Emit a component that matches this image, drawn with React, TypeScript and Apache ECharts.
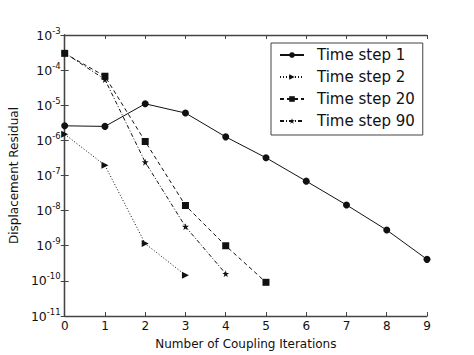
import React, { useEffect, useRef } from "react";
import * as echarts from "echarts";

const iterations = [0, 1, 2, 3, 4, 5, 6, 7, 8, 9];
const timeStep1 = [2.6e-6, 2.5e-6, 1.1e-5, 6e-6, 1.26e-6, 3.2e-7, 6.9e-8, 1.45e-8, 2.8e-9, 4.1e-10];
const timeStep2 = [1.5e-6, 1.95e-7, 1.15e-9, 1.45e-10];
const timeStep20 = [3.0e-4, 6.7e-5, 9.3e-7, 1.4e-8, 1.0e-9, 9.1e-11];
const timeStep90 = [3.1e-4, 5.4e-5, 2.4e-7, 3.5e-9, 1.6e-10];
const seriesNames = ["Time step 1", "Time step 2", "Time step 20", "Time step 90"];
const xTicks = [0, 1, 2, 3, 4, 5, 6, 7, 8, 9];

const FONT = "DejaVu Sans";
const STAR = "path://M50,0 L61,35 L98,35 L68,57 L79,91 L50,70 L21,91 L32,57 L2,35 L39,35 Z";

function pairs(vals: number[]) {
  return vals.map((v, i) => [iterations[i], v]);
}

export default function App() {
  const ref = useRef<HTMLDivElement>(null);
  useEffect(() => {
    const chart = echarts.init(ref.current!, null, { renderer: "svg" });
    const axisLine = { lineStyle: { color: "#444", width: 1.3 } };
    const tick = { inside: true, length: 4, lineStyle: { color: "#444", width: 1 } };
    const lineBase = { color: "#111", width: 1 };
    chart.setOption({
      animation: false,
      backgroundColor: "#fff",
      textStyle: { fontFamily: FONT },
      grid: { left: 60, right: 47, top: 35, bottom: 36 },
      legend: {
        left: 271,
        top: 43,
        orient: "vertical",
        data: seriesNames,
        itemWidth: 24,
        itemHeight: 7,
        itemGap: 4,
        padding: [3, 8, 5, 8],
        borderColor: "#444",
        borderWidth: 1,
        textStyle: {
          fontFamily: FONT,
          fontSize: 15,
          lineHeight: 18,
          color: "#111",
          padding: [0, 0, 0, 8],
        },
      },
      xAxis: [
        {
          type: "value",
          min: 0,
          max: 9,
          interval: 1,
          name: "Number of Coupling Iterations",
          nameLocation: "middle",
          nameGap: 22,
          nameTextStyle: { fontFamily: FONT, fontSize: 12, color: "#111" },
          axisLine,
          axisTick: tick,
          splitLine: { show: false },
          axisLabel: {
            fontFamily: FONT,
            fontSize: 12,
            color: "#111",
            margin: 4,
            formatter: (v: number) => (xTicks.includes(v) ? String(v) : ""),
          },
        },
        {
          type: "value",
          position: "top",
          min: 0,
          max: 9,
          interval: 1,
          axisLine,
          axisTick: tick,
          splitLine: { show: false },
          axisLabel: { show: false },
        },
      ],
      yAxis: [
        {
          type: "log",
          logBase: 10,
          min: 1e-11,
          max: 1e-3,
          splitNumber: 8,
          name: "Displacement Residual",
          nameLocation: "middle",
          nameGap: 42,
          nameTextStyle: { fontFamily: FONT, fontSize: 12, color: "#111" },
          axisLine,
          axisTick: tick,
          splitLine: { show: false },
          axisLabel: {
            margin: 4,
            formatter: (v: number) => `{b|10}{s|${Math.round(Math.log10(v))}}`,
            rich: {
              b: { fontFamily: FONT, fontSize: 12.5, color: "#111" },
              s: { fontFamily: FONT, fontSize: 8.5, color: "#111", padding: [0, 0, 9, 0] },
            },
          },
        },
        {
          type: "log",
          logBase: 10,
          min: 1e-11,
          max: 1e-3,
          splitNumber: 8,
          position: "right",
          axisLine,
          axisTick: tick,
          splitLine: { show: false },
          axisLabel: { show: false },
        },
      ],
      series: [
        {
          name: seriesNames[0],
          type: "line",
          data: pairs(timeStep1),
          symbol: "circle",
          symbolSize: 7,
          showAllSymbol: true,
          itemStyle: { color: "#111" },
          lineStyle: { ...lineBase, type: "solid" },
        },
        {
          name: seriesNames[1],
          type: "line",
          data: pairs(timeStep2),
          symbol: "triangle",
          symbolRotate: -90,
          symbolSize: 7,
          itemStyle: { color: "#111" },
          lineStyle: { ...lineBase, type: [1, 2] },
        },
        {
          name: seriesNames[2],
          type: "line",
          data: pairs(timeStep20),
          symbol: "rect",
          symbolSize: 7,
          itemStyle: { color: "#111" },
          lineStyle: { ...lineBase, type: [4, 3] },
        },
        {
          name: seriesNames[3],
          type: "line",
          data: pairs(timeStep90),
          symbol: STAR,
          symbolSize: 7,
          itemStyle: { color: "#111" },
          lineStyle: { ...lineBase, type: [4, 2, 1, 2] },
        },
      ],
    });
    return () => chart.dispose();
  }, []);
  return (
    <div
      ref={ref}
      style={{ position: "fixed", left: 0, top: 0, width: 474, height: 355 }}
    />
  );
}
